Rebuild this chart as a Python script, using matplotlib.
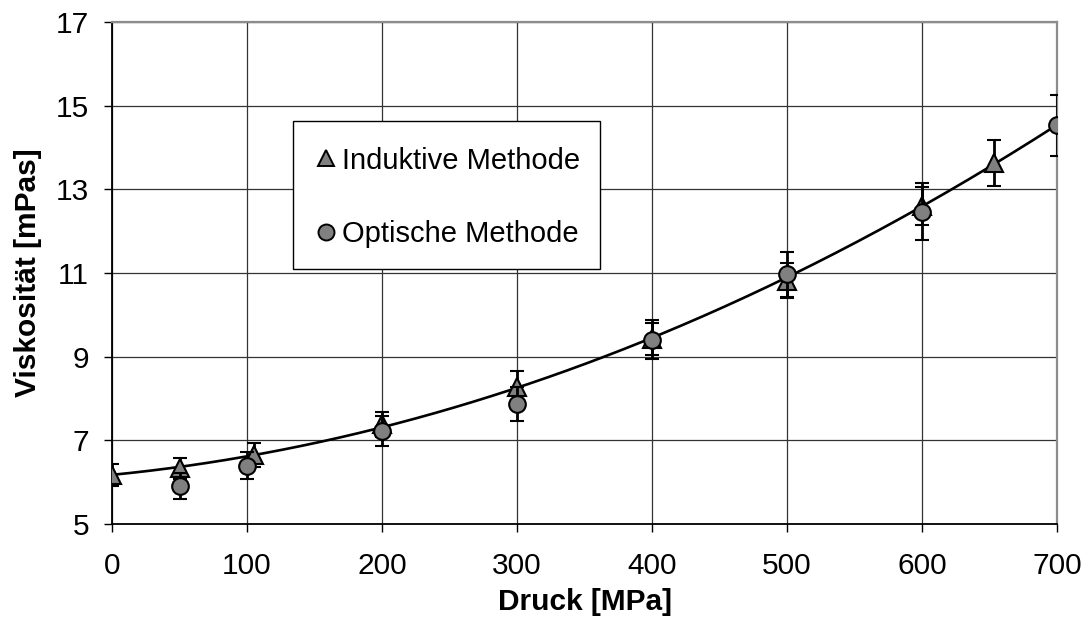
import numpy as np
import matplotlib
matplotlib.use("Agg")
import matplotlib.pyplot as plt
from matplotlib.lines import Line2D
from matplotlib.patches import Rectangle

plt.rcParams['font.family'] = ['Liberation Sans', 'DejaVu Sans']

# Induktive Methode
druck_ind = [0, 50, 105, 200, 300, 400, 500, 600, 653]
visk_ind = [6.17, 6.33, 6.65, 7.38, 8.28, 9.43, 10.82, 12.60, 13.63]
err_ind = [0.26, 0.25, 0.28, 0.29, 0.38, 0.38, 0.42, 0.45, 0.55]

# Optische Methode
druck_opt = [50, 100, 200, 300, 400, 500, 600, 700]
visk_opt = [5.91, 6.39, 7.23, 7.87, 9.41, 10.97, 12.47, 14.53]
err_opt = [0.32, 0.32, 0.36, 0.40, 0.46, 0.54, 0.68, 0.73]

x_ticks = [0, 100, 200, 300, 400, 500, 600, 700]
y_ticks = [5, 7, 9, 11, 13, 15, 17]

FS = 21.5

fig = plt.figure(figsize=(10.84, 6.17), dpi=100)
ax = fig.add_axes([112 / 1084, 1 - 524 / 617, 945 / 1084, 502 / 617])

# quadratic trend line through the inductive measurements
coef = np.polyfit(druck_ind, visk_ind, 2)
xs = np.linspace(0, 700, 300)
ax.plot(xs, np.polyval(coef, xs), color='black', lw=1.9, zorder=2)

ax.errorbar(druck_ind, visk_ind, yerr=err_ind, fmt='^', ms=12.5,
            mfc='#808080', mec='black', mew=1.5, ecolor='black',
            elinewidth=2.0, capsize=5.3, capthick=2.0, zorder=3)
ax.errorbar(druck_opt, visk_opt, yerr=err_opt, fmt='o', ms=12,
            mfc='#808080', mec='black', mew=1.5, ecolor='black',
            elinewidth=2.0, capsize=5.3, capthick=2.0, zorder=4)

ax.set_xlim(0, 700)
ax.set_ylim(5, 17)
ax.set_xticks(x_ticks)
ax.set_yticks(y_ticks)
ax.tick_params(axis='both', labelsize=FS, direction='out', length=5.5,
               width=1.0, color='black')
ax.tick_params(axis='x', pad=15)
ax.tick_params(axis='y', pad=11)
ax.grid(True, color='#333333', lw=0.9)
ax.set_axisbelow(True)

for s in ('left', 'bottom'):
    ax.spines[s].set_color('black')
    ax.spines[s].set_linewidth(1.3)
for s in ('top', 'right'):
    ax.spines[s].set_color('#8c8c8c')
    ax.spines[s].set_linewidth(1.6)

ax.set_xlabel('Druck [MPa]', fontsize=FS, fontweight='bold')
ax.set_ylabel('Viskosität [mPas]', fontsize=FS, fontweight='bold')
ax.xaxis.set_label_coords(0.5, -0.127)
ax.yaxis.set_label_coords(-0.074, 0.5)

# legend box
ax.add_patch(Rectangle((0.1915, 0.508), 0.3245, 0.2945, transform=ax.transAxes,
                       facecolor='white', edgecolor='black', lw=1.0, zorder=4.5))

handles = [
    Line2D([], [], ls='none', marker='^', ms=12, mfc='#808080', mec='black', mew=1.4),
    Line2D([], [], ls='none', marker='o', ms=11.5, mfc='#808080', mec='black', mew=1.4),
]
leg = ax.legend(handles, ['Induktive Methode', 'Optische Methode'],
                loc='center left', bbox_to_anchor=(0.2169, 0.651),
                fontsize=21, frameon=False, borderpad=0.0,
                labelspacing=1.55, handlelength=0.6, handletextpad=0.25,
                borderaxespad=0.0)
leg.set_zorder(5)

fig.savefig('out.png', dpi=100)
